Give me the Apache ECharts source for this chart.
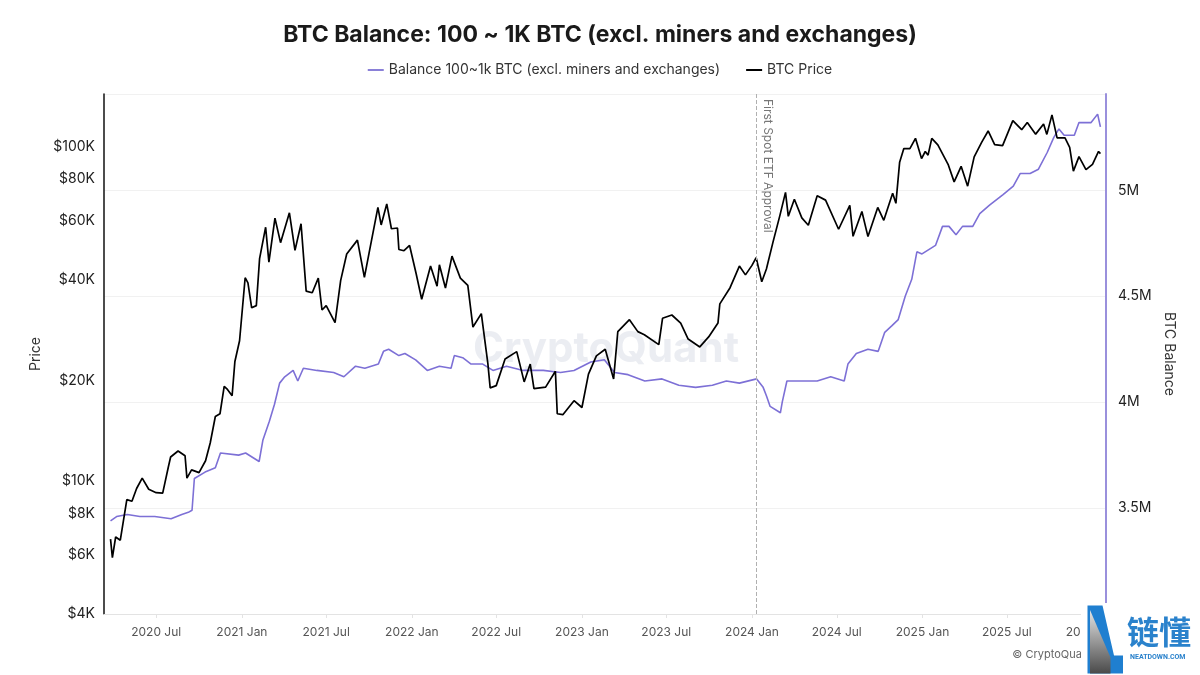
<!DOCTYPE html>
<html>
<head>
<meta charset="utf-8">
<script src="https://cdn.jsdelivr.net/npm/echarts@6/dist/echarts.min.js"></script>
<style>
html,body{margin:0;padding:0;background:#fff;}
#chart{width:1200px;height:675px;}
</style>
</head>
<body>
<div id="chart"></div>
<script>
// ---- Data ----
const priceDates = ['2020-03-25','2020-03-29','2020-04-05','2020-04-15','2020-04-29','2020-05-10','2020-05-20','2020-06-01','2020-06-15','2020-07-01','2020-07-15','2020-07-27','2020-08-01','2020-08-17','2020-09-01','2020-09-05','2020-09-15','2020-10-01','2020-10-15','2020-10-25','2020-11-05','2020-11-15','2020-11-24','2020-12-01','2020-12-11','2020-12-17','2020-12-27','2021-01-08','2021-01-14','2021-01-22','2021-02-01','2021-02-08','2021-02-21','2021-02-28','2021-03-13','2021-03-25','2021-04-13','2021-04-25','2021-05-08','2021-05-19','2021-06-01','2021-06-14','2021-06-22','2021-07-01','2021-07-20','2021-08-01','2021-08-14','2021-09-06','2021-09-21','2021-10-01','2021-10-20','2021-10-27','2021-11-08','2021-11-18','2021-12-01','2021-12-04','2021-12-15','2021-12-27','2022-01-10','2022-01-22','2022-02-10','2022-02-24','2022-03-01','2022-03-14','2022-03-28','2022-04-15','2022-05-01','2022-05-12','2022-05-30','2022-06-13','2022-06-18','2022-07-01','2022-07-20','2022-08-14','2022-08-30','2022-09-12','2022-09-20','2022-10-15','2022-11-05','2022-11-09','2022-11-21','2022-12-15','2023-01-01','2023-01-15','2023-02-01','2023-02-20','2023-03-10','2023-03-19','2023-04-13','2023-05-01','2023-05-15','2023-06-15','2023-06-23','2023-07-13','2023-08-01','2023-08-17','2023-09-11','2023-09-30','2023-10-20','2023-10-24','2023-11-15','2023-12-05','2023-12-18','2024-01-01','2024-01-10','2024-01-22','2024-02-01','2024-02-15','2024-03-01','2024-03-13','2024-03-19','2024-04-01','2024-04-17','2024-05-01','2024-05-20','2024-06-07','2024-07-05','2024-07-29','2024-08-05','2024-08-24','2024-09-06','2024-09-27','2024-10-10','2024-10-29','2024-11-05','2024-11-13','2024-11-22','2024-12-05','2024-12-17','2024-12-30','2025-01-07','2025-01-13','2025-01-21','2025-02-03','2025-02-25','2025-03-10','2025-03-25','2025-04-08','2025-04-22','2025-05-08','2025-05-22','2025-06-05','2025-06-22','2025-07-14','2025-08-02','2025-08-14','2025-09-01','2025-09-18','2025-09-25','2025-10-06','2025-10-17','2025-11-03','2025-11-13','2025-11-21','2025-12-03','2025-12-18','2026-01-01','2026-01-14','2026-01-18'];
const priceValues = [6700,5900,6800,6650,8800,8700,9500,10200,9450,9230,9200,11000,11800,12300,11900,10200,10800,10600,11500,13000,15600,15900,19200,18800,18000,22800,26300,40600,39200,33000,33500,46300,57500,45200,61200,51700,63500,49000,58900,37000,36600,40500,32500,33500,29800,39800,47800,52600,40700,48100,65900,58400,67500,56900,57200,49300,48900,50700,41800,35000,44000,38300,44400,37800,47100,40500,38500,28900,31700,22500,19000,19300,23200,24400,19800,22400,18900,19100,21300,15900,15800,17400,16600,20900,23700,24800,20200,28000,30400,28000,27400,25600,30700,31400,29700,26600,25200,27000,29700,33900,37900,44000,41400,44200,46600,39500,43100,51800,62400,73100,62000,69700,61300,58300,71400,69300,56700,66800,54000,64100,53900,65900,60300,72700,67800,90000,98900,98800,106100,92300,96900,94500,106100,101400,88700,78600,87500,76300,93400,103200,111600,101600,100900,119900,112600,118300,109200,117100,109000,124700,106400,106500,99700,84600,93500,85500,88700,96900,95500];

const balanceDates = ['2020-03-25','2020-04-07','2020-04-30','2020-05-27','2020-06-28','2020-08-02','2020-08-25','2020-09-08','2020-09-16','2020-09-21','2020-10-14','2020-11-05','2020-11-16','2020-12-25','2021-01-09','2021-02-07','2021-02-15','2021-03-01','2021-03-12','2021-03-23','2021-04-03','2021-04-21','2021-05-01','2021-05-13','2021-06-11','2021-07-17','2021-08-08','2021-09-02','2021-09-22','2021-10-21','2021-11-01','2021-11-12','2021-12-04','2021-12-17','2022-01-09','2022-02-03','2022-03-01','2022-03-26','2022-04-02','2022-04-20','2022-05-08','2022-06-02','2022-06-24','2022-07-23','2022-08-28','2022-10-10','2022-11-16','2022-12-15','2023-01-20','2023-02-18','2023-03-12','2023-04-10','2023-05-16','2023-06-22','2023-07-28','2023-09-02','2023-10-08','2023-11-07','2023-12-05','2024-01-11','2024-01-25','2024-02-01','2024-02-09','2024-03-02','2024-03-06','2024-03-16','2024-04-12','2024-05-20','2024-06-18','2024-07-17','2024-07-25','2024-08-12','2024-09-06','2024-09-28','2024-10-12','2024-10-27','2024-11-10','2024-11-25','2024-12-09','2024-12-20','2024-12-31','2025-01-29','2025-02-13','2025-02-27','2025-03-14','2025-03-28','2025-04-19','2025-05-04','2025-05-25','2025-06-23','2025-07-15','2025-07-30','2025-08-20','2025-09-07','2025-09-26','2025-10-10','2025-10-21','2025-11-01','2025-11-23','2025-12-03','2025-12-29','2026-01-12','2026-01-18'];
const balanceValues = [3.44e6,3.46e6,3.47e6,3.46e6,3.46e6,3.45e6,3.47e6,3.48e6,3.49e6,3.64e6,3.67e6,3.69e6,3.76e6,3.75e6,3.76e6,3.72e6,3.82e6,3.91e6,3.99e6,4.09e6,4.12e6,4.15e6,4.10e6,4.16e6,4.15e6,4.14e6,4.12e6,4.17e6,4.16e6,4.18e6,4.24e6,4.25e6,4.22e6,4.23e6,4.20e6,4.15e6,4.17e6,4.16e6,4.22e6,4.21e6,4.18e6,4.18e6,4.15e6,4.17e6,4.15e6,4.15e6,4.14e6,4.15e6,4.19e6,4.20e6,4.14e6,4.13e6,4.10e6,4.11e6,4.08e6,4.07e6,4.08e6,4.10e6,4.09e6,4.11e6,4.07e6,4.03e6,3.98e6,3.95e6,4.00e6,4.10e6,4.10e6,4.10e6,4.12e6,4.10e6,4.18e6,4.23e6,4.25e6,4.24e6,4.33e6,4.36e6,4.39e6,4.50e6,4.58e6,4.71e6,4.70e6,4.74e6,4.83e6,4.83e6,4.79e6,4.83e6,4.83e6,4.89e6,4.93e6,4.98e6,5.02e6,5.08e6,5.08e6,5.10e6,5.18e6,5.25e6,5.29e6,5.26e6,5.26e6,5.32e6,5.32e6,5.36e6,5.30e6];

const xTickDates = ['2020-07-01','2021-01-01','2021-07-01','2022-01-01','2022-07-01','2023-01-01','2023-07-01','2024-01-01','2024-07-01','2025-01-01','2025-07-01','2026-01-01'];
const priceTicks = [4000,6000,8000,10000,20000,40000,60000,80000,100000];
const etfDate = '2024-01-10';
const etfLabel = 'First Spot ETF Approval';

const MONTHS = ['Jan','Feb','Mar','Apr','May','Jun','Jul','Aug','Sep','Oct','Nov','Dec'];
function ts(s){ const p = s.split('-'); return Date.UTC(+p[0], +p[1]-1, +p[2]); }

const chart = echarts.init(document.getElementById('chart'), null, {renderer:'canvas'});
const FONT = 'Inter, "Noto Sans", sans-serif';

const option = {
  animation: false,
  backgroundColor: '#fff',
  textStyle: {fontFamily: FONT},
  title: {
    text: 'BTC Balance: 100 ~ 1K BTC (excl. miners and exchanges)',
    left: 'center', top: 19,
    textStyle: {fontSize: 23, fontWeight: 'bold', color: '#1a1a1a', fontFamily: FONT}
  },
  legend: {
    top: 58, left: 'center',
    icon: 'rect', itemWidth: 16, itemHeight: 2, itemGap: 26,
    textStyle: {fontSize: 14, color: '#333', fontFamily: FONT},
    data: ['Balance 100~1k BTC (excl. miners and exchanges)', 'BTC Price']
  },
  grid: {left: 104, right: 94, top: 94, bottom: 61, containLabel: false},
  xAxis: {
    type: 'value',
    min: ts('2020-03-11'), max: ts('2026-01-30'),
    axisLine: {show: true, onZero: false, lineStyle: {color: '#e3e3e3', width: 1}},
    axisTick: {show: true, length: 4, lineStyle: {color: '#e3e3e3'}, customValues: xTickDates.map(ts)},
    splitLine: {show: false},
    axisLabel: {
      customValues: xTickDates.map(ts),
      color: '#555', fontSize: 12, margin: 12, fontFamily: FONT,
      formatter: function(v){ const d = new Date(v); return d.getUTCFullYear() + ' ' + MONTHS[d.getUTCMonth()]; }
    }
  },
  yAxis: [
    {
      type: 'log', logBase: 10, min: 4000, max: 144000, position: 'left',
      name: 'Price', nameLocation: 'middle', nameGap: 61,
      nameTextStyle: {fontSize: 14, color: '#333', fontFamily: FONT},
      axisLine: {show: true, lineStyle: {color: '#111', width: 1.5}},
      axisTick: {show: false},
      splitLine: {show: false},
      axisLabel: {
        customValues: priceTicks,
        fontSize: 14, color: '#222', margin: 9, fontFamily: FONT,
        formatter: function(v){ return '$' + Math.round(v/1000) + 'K'; }
      }
    },
    {
      type: 'value', min: 3.0e6, max: 5.455e6, interval: 0.5e6, position: 'right',
      name: 'BTC Balance', nameLocation: 'middle', nameGap: 48, nameRotate: -90,
      nameTextStyle: {fontSize: 14, color: '#333', fontFamily: FONT},
      axisLine: {show: true, lineStyle: {color: '#9a90dc', width: 2}},
      axisTick: {show: false},
      splitLine: {show: true, lineStyle: {color: '#f1f1f1', width: 1}},
      axisLabel: {
        showMinLabel: false, showMaxLabel: false,
        fontSize: 14, color: '#222', margin: 12, fontFamily: FONT,
        formatter: function(v){ return (v/1e6) + 'M'; }
      }
    }
  ],
  series: [
    {
      name: 'Balance 100~1k BTC (excl. miners and exchanges)',
      type: 'line', yAxisIndex: 1, showSymbol: false, symbol: 'none',
      lineStyle: {color: '#7d70d6', width: 1.6},
      itemStyle: {color: '#8a80d8'},
      data: balanceDates.map((d, i) => [ts(d), balanceValues[i]])
    },
    {
      name: 'BTC Price',
      type: 'line', yAxisIndex: 0, showSymbol: false, symbol: 'none',
      lineStyle: {color: '#000', width: 1.7},
      itemStyle: {color: '#000'},
      data: priceDates.map((d, i) => [ts(d), priceValues[i]]),
      markLine: {
        silent: true, symbol: 'none', animation: false,
        lineStyle: {color: '#b0b0b0', type: 'dashed', width: 1},
        label: {show: true, formatter: etfLabel, position: 'insideStartTop', color: '#777', fontSize: 12, fontFamily: FONT},
        data: [[{coord: [ts(etfDate), 144000]}, {coord: [ts(etfDate), 4000]}]]
      }
    }
  ],
  graphic: [
    {type: 'text', left: 473, top: 328, z: -1, silent: true,
     style: {text: 'CryptoQuant', fontSize: 42, fontWeight: 'bold', fill: 'rgba(205,210,222,0.4)', fontFamily: FONT}},
    {type: 'text', right: 108, top: 649, style: {text: '© CryptoQuant', fontSize: 11, fill: '#666', fontFamily: FONT}},
    {type: 'rect', shape: {x: 1081, y: 603, width: 119, height: 72}, style: {fill: '#fff'}, z: 100},
    {type: 'polygon', z: 101, shape: {points: [[1087.5,605.5],[1102.5,605.5],[1114,655.5],[1123,655.5],[1123,673.5],[1087.5,673.5]]}, style: {fill: '#1f7fd0'}},
    {type: 'polygon', z: 102, shape: {points: [[1090,610],[1110.5,657.5],[1110.5,673.5],[1090,673.5]]},
     style: {fill: new echarts.graphic.LinearGradient(0,0,0,1,[{offset:0,color:'#e4e4e4'},{offset:1,color:'#4a4a4a'}])}},
    {type: 'text', z: 101, left: 1127, top: 616, style: {text: '链懂', fontSize: 32, fontWeight: 'bold', fill: '#2a82cc', fontFamily: '"Noto Sans CJK SC", sans-serif'}},
    {type: 'text', z: 101, left: 1130, top: 654, style: {text: 'NEATDOWN.COM', fontSize: 7, fontWeight: 'bold', fill: '#2a82cc', fontFamily: 'Roboto, sans-serif'}}
  ]
};
chart.setOption(option);
</script>
</body>
</html>
